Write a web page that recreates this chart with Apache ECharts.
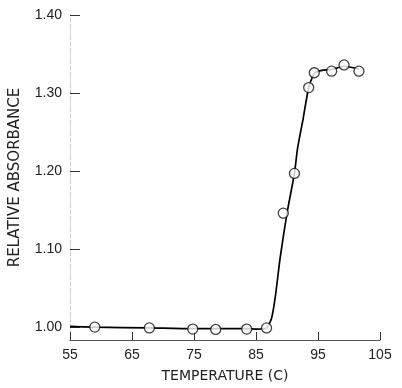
<!DOCTYPE html>
<html>
<head>
<meta charset="utf-8">
<script src="https://cdn.jsdelivr.net/npm/echarts@6/dist/echarts.min.js"></script>
<style>
  html, body { margin: 0; padding: 0; background: #fff; }
  #chart { width: 402px; height: 388px; }
</style>
</head>
<body>
<div id="chart"></div>
<script>
// measured points (open circles)
const pointTemps = [59.0, 67.8, 74.8, 78.5, 83.5, 86.7, 89.4, 91.2, 93.5, 94.4, 97.2, 99.2, 101.6]
const pointAbs = [1.000, 0.999, 0.9975, 0.997, 0.9975, 0.999, 1.146, 1.197, 1.307, 1.326, 1.328, 1.336, 1.328]

// hand drawn fitted curve
const curveTemps = [55, 59, 67.8, 74.8, 83.5, 85.2, 86.7, 87.5, 88.1, 88.9, 90.0, 91.2, 91.7, 92.6, 93.5, 94.4, 95.6, 97.1, 99.2, 101.6]
const curveAbs = [1.001, 1.000, 0.999, 0.998, 0.998, 0.9975, 0.999, 1.011, 1.038, 1.089, 1.146, 1.197, 1.229, 1.267, 1.307, 1.325, 1.329, 1.330, 1.334, 1.331]

const xTicks = [55, 65, 75, 85, 95, 105]
const yTicks = [1.00, 1.10, 1.20, 1.30, 1.40]

const chart = echarts.init(document.getElementById('chart'))

const textStyle = { color: '#222', fontFamily: 'Liberation Sans, Arial, sans-serif', fontSize: 14 }
const nameStyle = { color: '#222', fontFamily: '"DejaVu Sans", sans-serif', fontSize: 14 }

const option = {
  animation: false,
  grid: { left: 70, right: 22, top: 15, bottom: 45 },
  xAxis: {
    type: 'value',
    min: 55,
    max: 105,
    name: 'TEMPERATURE (C)',
    nameLocation: 'middle',
    nameGap: 29,
    nameTextStyle: nameStyle,
    axisLine: { lineStyle: { color: '#555', width: 1 } },
    axisTick: { inside: true, length: 8, customValues: xTicks, lineStyle: { color: '#333' } },
    axisLabel: Object.assign({}, textStyle, { customValues: xTicks, margin: 8 }),
    splitLine: { show: false }
  },
  yAxis: {
    type: 'value',
    min: 0.9835,
    max: 1.40,
    name: 'RELATIVE ABSORBANCE',
    nameLocation: 'middle',
    nameGap: 47,
    nameTextStyle: Object.assign({}, nameStyle, { fontSize: 15 }),
    axisLine: { show: true, lineStyle: { color: '#ccc', type: 'dashed', width: 1 } },
    axisTick: { inside: true, length: 10, customValues: yTicks, lineStyle: { color: '#333' } },
    axisLabel: Object.assign({}, textStyle, {
      customValues: yTicks,
      margin: 8,
      formatter: v => v.toFixed(2)
    }),
    splitLine: { show: false }
  },
  series: [
    {
      type: 'line',
      data: curveTemps.map((t, i) => [t, curveAbs[i]]),
      smooth: 0.2,
      showSymbol: false,
      lineStyle: { color: '#000', width: 1.7 },
      z: 2
    },
    {
      type: 'scatter',
      data: pointTemps.map((t, i) => [t, pointAbs[i]]),
      symbol: 'circle',
      symbolSize: 10,
      itemStyle: { color: '#fff', borderColor: '#111', borderWidth: 1.3 },
      z: 3
    }
  ]
}

chart.setOption(option)
</script>
</body>
</html>
